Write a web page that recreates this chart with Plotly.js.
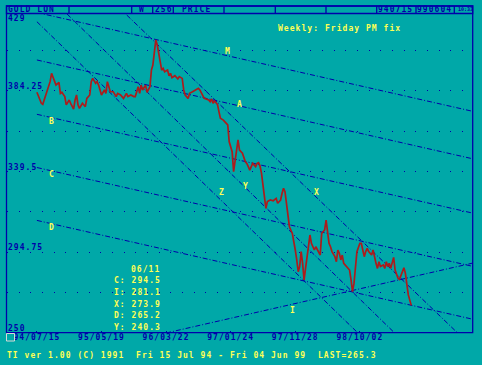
<!DOCTYPE html>
<html><head><meta charset="utf-8">
<script src="https://cdn.plot.ly/plotly-3.0.1.min.js"></script>
<style>
html,body{margin:0;padding:0;background:#00a8a8;overflow:hidden}
#chart{width:482px;height:365px}
text{letter-spacing:1.05px}
text[style*="font-size: 5px"]{letter-spacing:0}
</style>
</head><body><div id="chart"></div>
<script>
// ---- data (weekly Friday PM fix, week 0 = 94/07/15) ----
const weeks = [0,3,4,7,9,10,12,13,15,16,17,19,20,22,23,25,26,27,28,29,31,33,34,36,37,38,40,41,42,44,46,47,48,49,50,52,54,55,57,59,61,62,64,66,67,69,70,71,72,74,75,77,78,79,80,81,82,83,84,85,86,87,89,90,91,92,94,96,97,99,100,101,103,104,106,108,110,111,113,114,117,118,119,120,121,123,124,125,127,128,130,131,133,134,135,136,137,138,139,140,142,143,144,145,146,147,149,150,151,152,153,154,155,156,157,159,161,162,163,164,166,167,168,169,170,171,172,174,175,176,177,178,179,180,181,182,183,184,185,186,187,189,190,192,193,194,196,197,198,199,200,201,203,204,205,206,207,208,209,211,213,214,215,216,217,218,220,221,222,223,224,225,226,228,229,230,231,232,233,234,236,237,238,239,240,241,242,243,244,246,247,248,249,250,251,252,253,255];
const price = [383.4,377.3,376.7,384.7,389.3,393.9,390.2,387.4,388.9,382.8,383.4,381.0,376.4,379.1,377.3,374.1,379.1,381.9,376.4,374.5,377.3,375.4,380.0,381.9,389.3,391.1,388.4,389.3,387.4,381.9,384.7,382.8,389.3,385.6,383.7,383.7,381.0,382.8,381.9,380.0,382.8,381.0,381.9,381.0,381.0,386.5,382.8,387.4,384.7,387.4,383.4,386.5,395.7,398.5,405.9,412.4,409.6,404.1,400.4,395.7,396.7,394.8,395.7,392.6,393.9,391.5,392.6,390.8,392.1,391.1,384.7,381.9,380.0,382.8,383.7,384.7,385.6,384.7,381.9,380.0,379.1,378.2,379.7,377.3,378.6,376.7,372.7,369.0,368.0,367.1,365.3,356.0,350.5,339.4,345.9,350.5,357.0,351.4,350.5,349.6,344.9,344.0,342.2,340.3,342.2,344.0,342.2,344.0,344.4,342.5,338.5,331.1,323.7,319.1,322.8,323.7,323.3,324.1,324.6,321.9,323.7,327.4,330.2,328.3,321.9,314.5,308.9,305.2,301.5,296.0,290.5,284.0,286.8,295.1,288.6,279.4,285.8,292.3,297.8,304.3,299.7,296.0,297.8,295.1,293.2,305.2,307.1,312.6,307.1,299.7,297.8,295.1,292.3,289.5,296.0,294.2,290.5,293.2,288.6,286.8,284.9,279.4,272.9,277.5,288.6,295.1,299.7,299.7,296.0,292.3,295.1,296.9,295.1,293.2,296.0,291.4,288.6,285.8,289.5,286.8,287.7,285.8,289.5,286.8,288.6,285.8,288.6,291.9,284.9,280.3,279.7,282.1,284.9,286.2,283.1,276.6,271.1,265.3];

const xTickWeeks = [0, 44, 88, 132, 176, 220];
const xTickLabels = ['94/07/15','95/05/19','96/03/22','97/01/24','97/11/28','98/10/02'];
const yTickVals = [250, 294.75, 339.5, 384.25];
const yTickLabels = ['250','294.75','339.5','384.25'];
const yTopLabel = '429';
const yMin = 250, yMax = 429;
const yGrid = [272.375, 294.75, 317.125, 339.5, 361.875, 384.25, 406.625];

// trend lines: name, start (week, value), end (week, value)
const lineNames = ['M','A','B','C','D','I','X','Y','Z'];
const lineW0 = [0, 0, 0, 0, 0, 88, 61.2, 20.5, 0];
const lineV0 = [427.6, 401.3, 371.2, 341.7, 312.4, 250, 426.2, 426.8, 422.5];
const lineW1 = [297.1, 297.1, 297.1, 297.1, 297.1, 297.1, 286.6, 243.7, 218.7];
const lineV1 = [372.8, 346.5, 316.4, 286.9, 257.6, 288.8, 250, 250, 250];

// projected values for 06/11
const infoDate = '06/11';
const infoNames = ['C','I','X','D','Y'];
const infoValues = [294.5, 281.1, 273.9, 265.2, 240.3];

const headerFields = ['GOLD LON','W','256','PRICE','940715','990604'];
const headerClock = '10:33';
const subtitle = 'Weekly: Friday PM fix';
const footer = 'TI ver 1.00 (C) 1991  Fri 15 Jul 94 - Fri 04 Jun 99  LAST=265.3';

// ---- layout helpers (pixel -> paper) ----
const W = 482, H = 365, ML = 7, MR = 9, MT = 10, MB = 32;
const PW = W - ML - MR, PH = H - MT - MB;
const px = x => (x - ML) / PW;
const py = y => (H - MB - y) / PH;

const BLUE = '#0000aa', YEL = '#ffff55', TEAL = '#00a8a8';
const FONT = 'DejaVu Sans Mono';
const FS = 8;
const fnt = (c, s) => ({family: FONT, size: s || FS, color: c, weight: 'bold'});

const traces = [];
for (let i = 0; i < lineNames.length; i++) {
  traces.push({x: [lineW0[i], lineW1[i]], y: [lineV0[i], lineV1[i]], mode: 'lines', name: lineNames[i],
    line: {color: BLUE, width: 1, dash: '5px,2px,1px,2px'}, hoverinfo: 'skip'});
}
traces.push({x: weeks, y: price, mode: 'lines', name: 'PRICE', line: {color: '#ac1c1c', width: 1.7}});

const ann = [];
function txt(t, x, y, c, opt) {
  ann.push(Object.assign({text: t, xref: 'paper', yref: 'paper', x: px(x), y: py(y), xanchor: 'left', yanchor: 'middle',
    showarrow: false, font: fnt(c), borderpad: 0}, opt || {}));
}
// y-axis value labels (inside, just above their grid line)
yTickVals.forEach((v, i) => ann.push({text: yTickLabels[i], xref: 'paper', yref: 'y', x: px(7), y: v, yshift: 4.5,
  xanchor: 'left', yanchor: 'middle', showarrow: false, font: fnt(BLUE), borderpad: 0}));
txt(yTopLabel, 7, 18.3, BLUE);
txt(subtitle, 277, 27.7, YEL);
txt(footer, 5.5, 355, YEL);
// header
const headerX = [6.5, 138, 153.5, 181, 377, 416];
headerFields.forEach((t, i) => txt(t, headerX[i], 9.8, BLUE));
txt(headerClock, 457, 9.5, BLUE, {font: fnt(BLUE, 5)});
// line labels
const lblPos = {M:[227,51.7], A:[239,104.3], B:[51,121.7], C:[51,174.3], D:[51,227.7], Z:[221,192.7], Y:[245,186], X:[315.5,192], I:[291.5,310]};
Object.keys(lblPos).forEach(k => txt(k, lblPos[k][0] - 3, lblPos[k][1], YEL));
// info box
txt(infoDate, 130, 269, YEL);
infoNames.forEach((n, i) => txt(n + ': ' + infoValues[i].toFixed(1), 112.5, 280.7 + i * 11.75, YEL));

const shapes = [];
// header row (covers the line ends)
shapes.push({type: 'rect', xref: 'paper', yref: 'paper', x0: px(6.5), x1: px(472.7), y0: py(13.5), y1: py(6), fillcolor: TEAL, line: {color: BLUE, width: 1.3}, layer: 'above'});
[69, 131.7, 152.7, 173.3, 224, 275.3, 326, 376.7, 416, 454.3].forEach(x => shapes.push({type: 'line', xref: 'paper', yref: 'paper', x0: px(x), x1: px(x), y0: py(13.5), y1: py(6), line: {color: BLUE, width: 1.3}, layer: 'above'}));
// plot frame
shapes.push({type: 'rect', xref: 'paper', yref: 'paper', x0: px(6.5), x1: px(472.7), y0: py(332.7), y1: py(6), line: {color: BLUE, width: 1.3}, layer: 'above'});
// cursor box
shapes.push({type: 'rect', xref: 'paper', yref: 'paper', x0: px(6.5), x1: px(14.5), y0: py(341), y1: py(333.5), line: {color: '#d8d8d8', width: 1}, layer: 'above'});

const layout = {
  width: W, height: H, margin: {l: ML, r: MR, t: MT, b: MB, pad: 0},
  paper_bgcolor: TEAL, plot_bgcolor: TEAL, showlegend: false,
  xaxis: {range: [-20.37, 297.07], tickmode: 'array', tickvals: xTickWeeks, ticktext: xTickLabels,
    tickfont: fnt(BLUE), ticks: 'inside', ticklen: 2, tickcolor: BLUE, ticklabelstandoff: -2,
    showgrid: false, zeroline: false, showline: false, fixedrange: true},
  yaxis: {range: [yMin, yMax], tickmode: 'array', tickvals: yGrid, showticklabels: false, ticks: '',
    showgrid: true, gridcolor: BLUE, gridwidth: 1, griddash: '1px,10.67px',
    zeroline: false, showline: false, fixedrange: true},
  annotations: ann, shapes: shapes
};
Plotly.newPlot('chart', traces, layout, {displayModeBar: false, staticPlot: true});
</script></body></html>
